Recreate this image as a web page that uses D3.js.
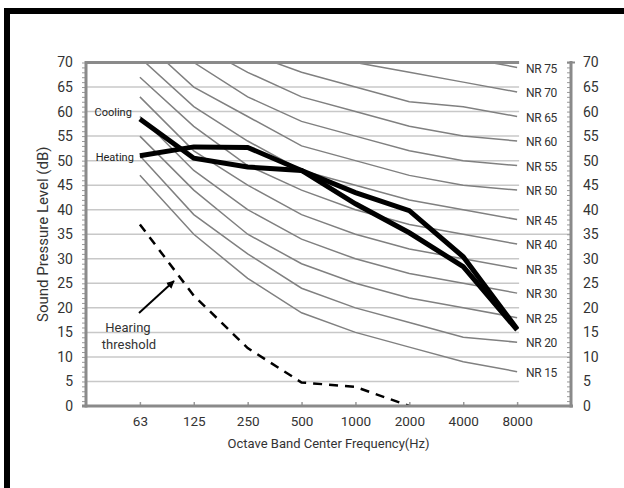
<!DOCTYPE html>
<html>
<head>
<meta charset="utf-8">
<script src="https://cdn.jsdelivr.net/npm/d3@7"></script>
<style>
  html, body { margin: 0; padding: 0; background: #fff; }
  svg { display: block; font-family: Roboto, "Noto Sans", sans-serif; }
</style>
</head>
<body>
<svg id="chart" width="624" height="488"></svg>
<script>
// ---- data ----
const frequencies = ["63", "125", "250", "500", "1000", "2000", "4000", "8000"];
const heating = [51, 52.8, 52.7, 48, 43.5, 39.8, 30.4, 15.7];
const cooling = [58.5, 50.5, 48.7, 48, 41.2, 35.3, 28.4, 15.5];
const hearingThreshold = [37, 22.5, 11.8, 4.8, 3.9, 0];
const nrLabels = ["NR 15", "NR 20", "NR 25", "NR 30", "NR 35", "NR 40", "NR 45", "NR 50", "NR 55", "NR 60", "NR 65", "NR 70", "NR 75"];
const nr15 = [47, 35, 26, 19, 15, 12, 9, 7];
const nr20 = [51, 39, 31, 24, 20, 17, 14, 13];
const nr25 = [55, 44, 35, 29, 25, 22, 20, 18];
const nr30 = [59, 48, 40, 34, 30, 27, 25, 23];
const nr35 = [63, 52, 45, 39, 35, 32, 30, 28];
const nr40 = [67, 57, 49, 44, 40, 37, 35, 33];
const nr45 = [71, 61, 54, 48, 45, 42, 40, 38];
const nr50 = [75, 65, 59, 53, 50, 47, 45, 44];
const nr55 = [79, 70, 63, 58, 55, 52, 50, 49];
const nr60 = [83, 74, 68, 63, 60, 57, 55, 54];
const nr65 = [87, 78, 72, 68, 65, 62, 61, 59];
const nr70 = [91, 83, 77, 73, 70, 68, 66, 64];
const nr75 = [95, 87, 82, 78, 75, 73, 71, 69];
const nrCurves = [nr15, nr20, nr25, nr30, nr35, nr40, nr45, nr50, nr55, nr60, nr65, nr70, nr75];
const yTicks = [0, 5, 10, 15, 20, 25, 30, 35, 40, 45, 50, 55, 60, 65, 70];
const longGridValues = [10, 35];

// ---- layout ----
const svg = d3.select("#chart");
const pLeft = 86, pRight = 571, pTop = 62.5, pBottom = 406;
const x = d3.scaleLinear().domain([-1, 8]).range([pLeft, pRight]);
const y = d3.scaleLinear().domain([0, 70]).range([pBottom, pTop]);
const gridEnd = x(7) + 2;

// frame
svg.append("rect").attr("x", 7).attr("y", 11).attr("width", 700).attr("height", 600)
  .attr("fill", "none").attr("stroke", "#000").attr("stroke-width", 6);

const defs = svg.append("defs");
defs.append("clipPath").attr("id", "plotclip")
  .append("rect").attr("x", pLeft).attr("y", pTop).attr("width", pRight - pLeft).attr("height", pBottom - pTop);

// gridlines
svg.append("g").selectAll("line").data(yTicks.filter(v => v > 0 && v < 70)).join("line")
  .attr("x1", pLeft).attr("x2", d => longGridValues.includes(d) ? pRight : gridEnd)
  .attr("y1", d => y(d)).attr("y2", d => y(d))
  .attr("stroke", "#c8c8c8").attr("stroke-width", 1.5);

// NR curves
const line = d3.line().x((d, i) => x(i)).y(d => y(d));
const g = svg.append("g").attr("clip-path", "url(#plotclip)");
g.selectAll("path.nr").data(nrCurves).join("path").attr("class", "nr")
  .attr("d", d => line(d)).attr("fill", "none").attr("stroke", "#808080").attr("stroke-width", 1.5);

// top border line
svg.append("line").attr("x1", pLeft).attr("x2", gridEnd).attr("y1", y(70)).attr("y2", y(70))
  .attr("stroke", "#8a8a8a").attr("stroke-width", 3);

// NR labels
svg.append("g").selectAll("text").data(nrCurves).join("text")
  .attr("x", x(7) + 9).attr("y", d => y(d[7]) + 1).attr("dy", "0.35em")
  .attr("font-size", 12).attr("fill", "#333").attr("letter-spacing", -0.3)
  .text((d, i) => nrLabels[i]);

// hearing threshold
g.append("path").attr("d", line(hearingThreshold)).attr("fill", "none")
  .attr("stroke", "#000").attr("stroke-width", 2.5).attr("stroke-dasharray", "9,7");

// heating / cooling
[heating, cooling].forEach(s => {
  svg.append("path").attr("d", line(s)).attr("fill", "none").attr("stroke", "#000")
    .attr("stroke-width", 5).attr("stroke-linejoin", "miter");
});

svg.append("text").attr("x", x(0) - 8).attr("y", y(cooling[0]) - 3).attr("text-anchor", "end")
  .attr("font-size", 11).attr("fill", "#222").text("Cooling");
svg.append("text").attr("x", x(0) - 6).attr("y", y(heating[0]) + 1).attr("text-anchor", "end")
  .attr("dy", "0.35em").attr("font-size", 11).attr("fill", "#222").text("Heating");

// axes
const axisColor = "#8a8a8a";
const yLeft = svg.append("g").attr("transform", `translate(${pLeft},0)`)
  .call(d3.axisLeft(y).tickValues(yTicks).tickSize(0).tickPadding(13));
yLeft.select(".domain").remove();
yLeft.selectAll("text").attr("font-size", 14).attr("fill", "#333").attr("font-family", "Roboto");
const yLeftMinor = svg.append("g").attr("transform", `translate(${pLeft - 1},0)`)
  .call(d3.axisLeft(y).ticks(70).tickSize(3).tickFormat(""));
yLeftMinor.select(".domain").remove();
yLeftMinor.selectAll("line").attr("stroke", "#999");

const yRight = svg.append("g").attr("transform", `translate(${pRight},0)`)
  .call(d3.axisRight(y).tickValues(yTicks).tickSize(0).tickPadding(12));
yRight.select(".domain").remove();
yRight.selectAll("text").attr("font-size", 14).attr("fill", "#333").attr("font-family", "Roboto");
const yRightMinor = svg.append("g").attr("transform", `translate(${pRight - 1},0)`)
  .call(d3.axisLeft(y).ticks(70).tickSize(3).tickFormat(""));
yRightMinor.select(".domain").remove();
yRightMinor.selectAll("line").attr("stroke", "#999");
svg.append("line").attr("x1", pRight - 4).attr("x2", pRight + 4).attr("y1", y(70)).attr("y2", y(70))
  .attr("stroke", axisColor).attr("stroke-width", 2);

svg.append("line").attr("x1", pLeft).attr("x2", pLeft).attr("y1", pTop - 1.5).attr("y2", pBottom + 1.5)
  .attr("stroke", axisColor).attr("stroke-width", 3);
svg.append("line").attr("x1", pRight).attr("x2", pRight).attr("y1", pTop - 1.5).attr("y2", pBottom + 1.5)
  .attr("stroke", axisColor).attr("stroke-width", 3);

const xAxis = svg.append("g").attr("transform", `translate(0,${pBottom})`)
  .call(d3.axisBottom(x).tickValues(d3.range(frequencies.length)).tickFormat(i => frequencies[i])
    .tickSize(-4).tickPadding(10));
xAxis.select(".domain").remove();
xAxis.selectAll("line").attr("stroke", "#999").attr("stroke-width", 1.5);
xAxis.selectAll("text").attr("font-size", 13.5).attr("fill", "#333").attr("font-family", "Roboto");
svg.append("line").attr("x1", pLeft - 4).attr("x2", pRight + 2).attr("y1", pBottom).attr("y2", pBottom)
  .attr("stroke", axisColor).attr("stroke-width", 3);

// titles
svg.append("text").attr("transform", `translate(48,${(pTop + pBottom) / 2}) rotate(-90)`)
  .attr("text-anchor", "middle").attr("font-size", 15).attr("fill", "#333")
  .text("Sound Pressure Level (dB)");
svg.append("text").attr("x", (x(0) + x(7)) / 2).attr("y", 448).attr("text-anchor", "middle")
  .attr("font-size", 13).attr("fill", "#333").text("Octave Band Center Frequency(Hz)");

// hearing threshold annotation
defs.append("marker").attr("id", "arrow").attr("viewBox", "0 0 10 10")
  .attr("refX", 9).attr("refY", 5).attr("markerWidth", 4).attr("markerHeight", 4)
  .attr("orient", "auto").append("path").attr("d", "M0,0 L10,5 L0,10 Z").attr("fill", "#000");
svg.append("line").attr("x1", 139).attr("y1", 313).attr("x2", 174).attr("y2", 281)
  .attr("stroke", "#000").attr("stroke-width", 2).attr("marker-end", "url(#arrow)");
svg.append("text").attr("x", 128).attr("y", 332).attr("text-anchor", "middle")
  .attr("font-size", 13).attr("fill", "#333").text("Hearing");
svg.append("text").attr("x", 129).attr("y", 349).attr("text-anchor", "middle")
  .attr("font-size", 13).attr("fill", "#333").text("threshold");
</script>
</body>
</html>
